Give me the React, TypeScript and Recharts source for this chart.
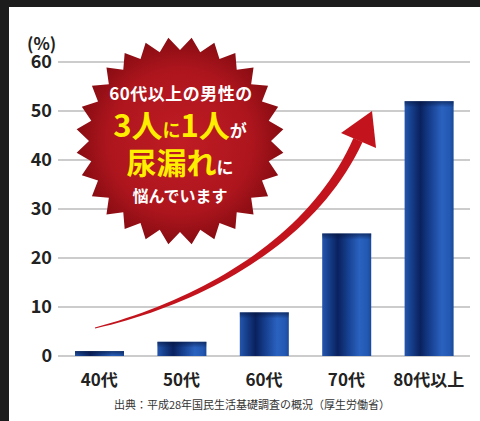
import React from "react";
import {
  BarChart,
  Bar,
  XAxis,
  YAxis,
  CartesianGrid,
  Customized,
} from "recharts";

const ageGroups = ["40代", "50代", "60代", "70代", "80代以上"];
const rates = [1.0, 2.9, 8.9, 25.0, 52.0];
const yTicks = [0, 10, 20, 30, 40, 50, 60];

const FONT = '"Noto Sans CJK JP", "Noto Sans", sans-serif';

const data = ageGroups.map((name, i) => ({ name, rate: rates[i] }));

// starburst polygon around a centre
function burstPoints(cx: number, cy: number, rOut: number, rIn: number, n: number) {
  const pts: string[] = [];
  const step = (Math.PI * 2) / n;
  for (let i = 0; i < n; i++) {
    const a = -Math.PI / 2 + step / 2 + i * step;
    pts.push(`${cx + rOut * Math.cos(a)},${cy + rOut * Math.sin(a)}`);
    const b = a + step / 2;
    pts.push(`${cx + rIn * Math.cos(b)},${cy + rIn * Math.sin(b)}`);
  }
  return pts.join(" ");
}

// tapering curved arrow shaft
function arrowShaft() {
  const p0 = [95, 328];
  const c1 = [200, 302];
  const c2 = [312, 242];
  const p3 = [358, 140];
  const left: string[] = [];
  const right: string[] = [];
  const n = 40;
  for (let i = 0; i <= n; i++) {
    const t = i / n;
    const u = 1 - t;
    const x = u * u * u * p0[0] + 3 * u * u * t * c1[0] + 3 * u * t * t * c2[0] + t * t * t * p3[0];
    const y = u * u * u * p0[1] + 3 * u * u * t * c1[1] + 3 * u * t * t * c2[1] + t * t * t * p3[1];
    const dx = 3 * u * u * (c1[0] - p0[0]) + 6 * u * t * (c2[0] - c1[0]) + 3 * t * t * (p3[0] - c2[0]);
    const dy = 3 * u * u * (c1[1] - p0[1]) + 6 * u * t * (c2[1] - c1[1]) + 3 * t * t * (p3[1] - c2[1]);
    const len = Math.hypot(dx, dy) || 1;
    const w = 0.4 + 4.6 * Math.pow(t, 0.8);
    left.push(`${x - (dy / len) * w},${y + (dx / len) * w}`);
    right.push(`${x + (dy / len) * w},${y - (dx / len) * w}`);
  }
  return left.concat(right.reverse()).join(" ");
}

function Overlay() {
  return (
    <g>
      <polygon points={arrowShaft()} fill="#c3141d" />
      <polygon points="372,111 341,133 376,148" fill="#c3141d" />
      <polygon points={burstPoints(180, 141, 104, 91, 28)} fill="url(#burstFill)" />
      <text x={181} y={100} textAnchor="middle" fill="#fff" fontFamily={FONT} fontWeight={700} fontSize={17} letterSpacing={0.5}>
        60代以上の男性の
      </text>
      <text x={180} y={137} textAnchor="middle" fontFamily={FONT} fontWeight={700}>
        <tspan fill="#ffee00" fontSize={31}>3人</tspan>
        <tspan fill="#ffee00" fontSize={18}>に</tspan>
        <tspan fill="#ffee00" fontSize={31}>1人</tspan>
        <tspan fill="#fff" fontSize={17}>が</tspan>
      </text>
      <text x={180} y={174} textAnchor="middle" fontFamily={FONT} fontWeight={700}>
        <tspan fill="#ffee00" fontSize={30}>尿漏れ</tspan>
        <tspan fill="#fff" fontSize={17}>に</tspan>
      </text>
      <text x={180} y={202} textAnchor="middle" fill="#fff" fontFamily={FONT} fontWeight={700} fontSize={16}>
        悩んでいます
      </text>
    </g>
  );
}

function GradientBar(props: any) {
  const { x, y, width, height } = props;
  if (!height || height <= 0) return null;
  return (
    <g>
      <rect x={x} y={y} width={width} height={height} fill="url(#barFill)" />
      <rect x={x} y={y} width={width} height={Math.min(6, height)} fill="url(#barTop)" />
    </g>
  );
}

function YTick({ y, payload }: any) {
  return (
    <text x={52} y={y + 6} textAnchor="end" fill="#222" fontFamily={FONT} fontWeight={700} fontSize={18}>
      {payload.value}
    </text>
  );
}

function XTick({ x, y, payload }: any) {
  return (
    <text x={x} y={y + 30} textAnchor="middle" fill="#222" fontFamily={FONT} fontWeight={700} fontSize={17}>
      {payload.value}
    </text>
  );
}

export default function App() {
  return (
    <div style={{ position: "absolute", left: 0, top: 0, width: 480, height: 421, background: "#fff", overflow: "hidden" }}>
      <div style={{ position: "absolute", left: 0, top: 0, width: 480, height: 7, background: "#1c1c1c" }} />
      <div style={{ position: "absolute", left: 0, top: 0, width: 9, height: 421, background: "#1c1c1c" }} />
      <div style={{ position: "absolute", left: 27, top: 34, lineHeight: "17px", fontFamily: FONT, fontWeight: 700, fontSize: 17, color: "#222" }}>
        (%)
      </div>
      <div style={{ position: "absolute", left: 0, top: 0 }}>
        <BarChart
          width={480}
          height={421}
          data={data}
          margin={{ top: 62, right: 10, left: 0, bottom: 35 }}
        >
          <defs>
            <linearGradient id="barFill" x1="0" y1="0" x2="1" y2="0">
              <stop offset="0%" stopColor="#2456ad" />
              <stop offset="14%" stopColor="#163f8b" />
              <stop offset="32%" stopColor="#0a215e" />
              <stop offset="52%" stopColor="#163f8e" />
              <stop offset="76%" stopColor="#2a62c0" />
              <stop offset="92%" stopColor="#2359b3" />
              <stop offset="100%" stopColor="#1a4899" />
            </linearGradient>
            <linearGradient id="barTop" x1="0" y1="0" x2="0" y2="1">
              <stop offset="0%" stopColor="#06143a" stopOpacity={0.6} />
              <stop offset="100%" stopColor="#06143a" stopOpacity={0} />
            </linearGradient>
            <radialGradient id="burstFill" cx="50%" cy="50%" r="50%">
              <stop offset="0%" stopColor="#c01c24" />
              <stop offset="70%" stopColor="#ad151d" />
              <stop offset="100%" stopColor="#880c12" />
            </radialGradient>
          </defs>
          <CartesianGrid vertical={false} stroke="#9a9a9a" strokeWidth={1.2} />
          <XAxis
            dataKey="name"
            axisLine={false}
            tickLine={false}
            tickSize={0}
            tickMargin={0}
            height={30}
            interval={0}
            tick={<XTick />}
          />
          <YAxis
            domain={[0, 60]}
            ticks={yTicks}
            interval={0}
            width={58}
            axisLine={false}
            tickLine={false}
            tick={<YTick />}
          />
          <Bar dataKey="rate" barSize={49} shape={<GradientBar />} isAnimationActive={false} />
          <Customized component={Overlay} />
        </BarChart>
      </div>
      <div
        style={{
          position: "absolute",
          left: 0,
          width: 504,
          top: 396,
          textAlign: "center",
          fontFamily: FONT,
          fontSize: 11,
          color: "#333",
        }}
      >
        出典：平成28年国民生活基礎調査の概況（厚生労働省）
      </div>
    </div>
  );
}
